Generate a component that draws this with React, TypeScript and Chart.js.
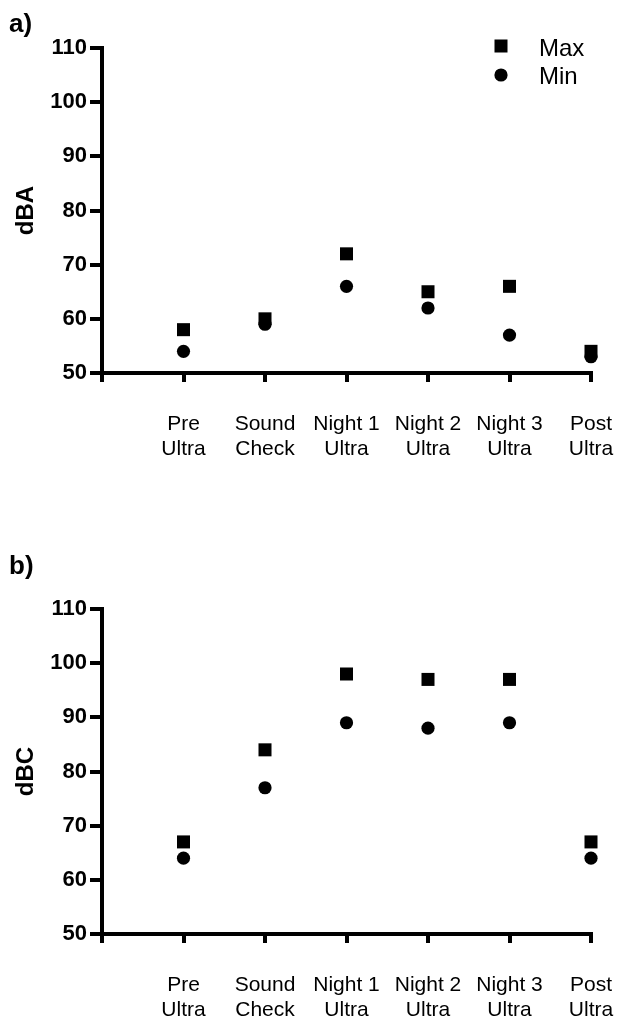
import React, { useEffect, useRef } from "react";
import { Chart, registerables } from "chart.js";

Chart.register(...registerables);

const categories: string[][] = [
  ["Pre", "Ultra"],
  ["Sound", "Check"],
  ["Night 1", "Ultra"],
  ["Night 2", "Ultra"],
  ["Night 3", "Ultra"],
  ["Post", "Ultra"],
];
const yTickValues = [50, 60, 70, 80, 90, 100, 110];
const dbaMax = [58, 60, 72, 65, 66, 54];
const dbaMin = [54, 59, 66, 62, 57, 53];
const dbcMax = [67, 84, 98, 97, 97, 67];
const dbcMin = [64, 77, 89, 88, 89, 64];
const legendLabels = ["Max", "Min"];

const FONT = '"Liberation Sans", Arial, Helvetica, sans-serif';

type PanelProps = {
  panel: string;
  yTitle: string;
  maxVals: number[];
  minVals: number[];
  top: number;
  height: number;
  areaTop: number;
  areaBottom: number;
  panelBaseline: number;
  showLegend: boolean;
};

function Panel(p: PanelProps) {
  const ref = useRef<HTMLCanvasElement | null>(null);
  useEffect(() => {
    if (!ref.current) return;
    const decor = {
      id: "decor",
      afterDraw(chart: any) {
        const ctx = chart.ctx;
        ctx.save();
        ctx.fillStyle = "#000";
        ctx.textBaseline = "alphabetic";
        ctx.textAlign = "left";
        ctx.font = `bold 26px ${FONT}`;
        ctx.fillText(p.panel, 9, p.panelBaseline);
        if (p.showLegend) {
          ctx.fillRect(501 - 6.5, 46 - 6.5, 13, 13);
          ctx.beginPath();
          ctx.arc(501, 75, 6.6, 0, Math.PI * 2);
          ctx.fill();
          ctx.font = `24px ${FONT}`;
          ctx.fillText(legendLabels[0], 539, 56);
          ctx.fillText(legendLabels[1], 539, 84);
        }
        ctx.restore();
      },
    };
    const chart = new Chart(ref.current, {
      type: "scatter",
      data: {
        datasets: [
          {
            label: legendLabels[0],
            data: p.maxVals.map((v, i) => ({ x: i + 1, y: v })),
            pointStyle: "rect",
            pointRadius: 9.2,
            backgroundColor: "#000",
            borderColor: "#000",
            borderWidth: 0,
            showLine: false,
            clip: false,
          },
          {
            label: legendLabels[1],
            data: p.minVals.map((v, i) => ({ x: i + 1, y: v })),
            pointStyle: "circle",
            pointRadius: 6.6,
            backgroundColor: "#000",
            borderColor: "#000",
            borderWidth: 0,
            showLine: false,
            clip: false,
          },
        ],
      },
      options: {
        responsive: false,
        animation: false,
        events: [],
        color: "#000",
        layout: {
          padding: { top: p.areaTop, right: 26, left: 0, bottom: 0 },
        },
        plugins: {
          legend: { display: false },
          tooltip: { enabled: false },
        },
        scales: {
          x: {
            type: "linear",
            min: 0,
            max: 6,
            afterFit: (scale: any) => {
              scale.height = p.height - p.areaBottom;
              scale.paddingLeft = 0;
              scale.paddingRight = 0;
            },
            afterBuildTicks: (scale: any) => {
              scale.ticks = [0, 1, 2, 3, 4, 5, 6].map((v) => ({ value: v }));
            },
            ticks: {
              autoSkip: false,
              maxRotation: 0,
              minRotation: 0,
              padding: 30,
              color: "#000",
              font: { family: FONT, size: 21, lineHeight: 25 / 21 },
              callback: (v: any) => {
                const i = Math.round(Number(v));
                return i >= 1 && i <= categories.length ? categories[i - 1] : "";
              },
            },
            grid: {
              drawOnChartArea: false,
              drawTicks: true,
              tickLength: 9,
              lineWidth: 4,
              color: "#000",
            },
            border: { display: true, width: 4, color: "#000" },
          },
          y: {
            type: "linear",
            min: yTickValues[0],
            max: yTickValues[yTickValues.length - 1],
            afterFit: (scale: any) => {
              scale.width = 102;
              scale.paddingTop = 0;
              scale.paddingBottom = 0;
            },
            afterBuildTicks: (scale: any) => {
              scale.ticks = yTickValues.map((v) => ({ value: v }));
            },
            ticks: {
              padding: 3,
              color: "#000",
              font: { family: FONT, size: 22, weight: "bold" },
              callback: (v: any) => String(v),
            },
            grid: {
              drawOnChartArea: false,
              drawTicks: true,
              tickLength: 12,
              lineWidth: 4,
              color: "#000",
            },
            border: { display: true, width: 4, color: "#000" },
            title: {
              display: true,
              text: p.yTitle,
              color: "#000",
              font: { family: FONT, size: 24, weight: "bold" },
              padding: { top: 12, bottom: 0 },
            },
          },
        },
      },
      plugins: [decor],
    } as any);
    return () => chart.destroy();
  }, []);
  return (
    <canvas
      ref={ref}
      width={617}
      height={p.height}
      style={{
        position: "absolute",
        left: 0,
        top: p.top,
        width: 617,
        height: p.height,
        display: "block",
      }}
    />
  );
}

export default function App() {
  return (
    <div>
      <Panel
        panel="a)"
        yTitle="dBA"
        maxVals={dbaMax}
        minVals={dbaMin}
        top={0}
        height={480}
        areaTop={48}
        areaBottom={373}
        panelBaseline={32}
        showLegend={true}
      />
      <Panel
        panel="b)"
        yTitle="dBC"
        maxVals={dbcMax}
        minVals={dbcMin}
        top={540}
        height={478}
        areaTop={69}
        areaBottom={394}
        panelBaseline={34}
        showLegend={false}
      />
    </div>
  );
}
